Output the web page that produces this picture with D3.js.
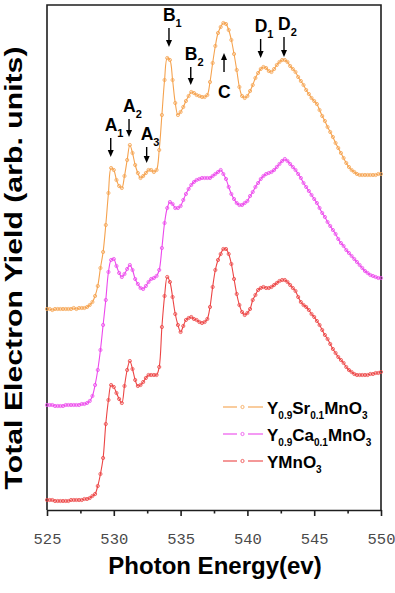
<!DOCTYPE html>
<html><head><meta charset="utf-8">
<script src="https://cdn.jsdelivr.net/npm/d3@7"></script>
<style>body{margin:0;background:#fff}svg{display:block}</style>
</head><body><svg id="c" width="395" height="593"></svg>
<script>
// Photon energy grid (eV)
const energies = [
525.0,525.2,525.4,525.6,525.8,526.0,526.2,526.4,526.6,526.8,
527.0,527.2,527.4,527.6,527.8,528.0,528.2,528.4,528.6,528.8,
529.0,529.2,529.4,529.6,529.8,530.0,530.2,530.4,530.6,530.8,
531.0,531.2,531.4,531.6,531.8,532.0,532.2,532.4,532.6,532.8,
533.0,533.2,533.4,533.6,533.8,534.0,534.2,534.4,534.6,534.8,
535.0,535.2,535.4,535.6,535.8,536.0,536.2,536.4,536.6,536.8,
537.0,537.2,537.4,537.6,537.8,538.0,538.2,538.4,538.6,538.8,
539.0,539.2,539.4,539.6,539.8,540.0,540.2,540.4,540.6,540.8,
541.0,541.2,541.4,541.6,541.8,542.0,542.2,542.4,542.6,542.8,
543.0,543.2,543.4,543.6,543.8,544.0,544.2,544.4,544.6,544.8,
545.0,545.2,545.4,545.6,545.8,546.0,546.2,546.4,546.6,546.8,
547.0,547.2,547.4,547.6,547.8,548.0,548.2,548.4,548.6,548.8,
549.0,549.2,549.4,549.6,549.8,550.0];

// Total electron yield (arb. units, offset curves)
const ySr = [
201,201,200,201,201,201,201,201,201,201,
202,201,202,202,202,203,205,208,214,224,
242,258,285,317,342,340,330,324,322,334,
350,365,357,345,337,332,334,337,340,340,
338,340,360,395,430,452,450,430,407,395,
398,403,409,414,418,417,415,414,413,413,
415,428,447,464,477,483,487,486,480,470,
456,440,423,414,412,414,419,425,432,437,
441,443,442,439,438,441,445,448,450,450,
448,444,441,438,433,429,425,420,416,412,
409,406,400,394,389,383,378,373,367,362,
357,352,347,343,340,338,336,335,335,335,
335,335,335,335,336,336];

const yCa = [
105,105,105,104,104,104,104,105,105,105,
105,105,105,106,106,107,109,114,125,140,
160,185,210,238,250,251,244,237,233,236,
241,245,240,231,226,222,221,224,228,231,
232,234,240,262,287,302,308,306,302,302,
304,310,316,321,325,328,330,331,332,332,
332,332,334,336,338,340,336,331,323,316,
311,307,305,305,307,309,314,318,323,327,
331,334,336,337,338,340,343,346,349,351,
349,346,343,340,336,332,327,323,319,315,
311,307,302,297,293,288,284,280,276,271,
267,264,260,257,254,251,248,245,242,239,
237,235,234,233,232,232];

const yY = [
10,10,10,9,9,9,9,9,9,10,
10,10,10,10,11,11,12,14,16,24,
36,52,86,110,125,123,117,111,107,124,
140,149,141,130,124,125,128,132,135,135,
135,135,143,183,214,233,228,213,196,185,
178,184,190,192,193,191,190,188,187,188,
191,203,223,240,250,256,261,261,256,246,
231,216,205,198,195,197,201,210,215,220,
222,223,222,222,223,225,227,229,230,230,
228,225,222,219,213,208,205,203,200,196,
193,189,185,180,175,171,166,161,157,153,
150,147,143,140,138,136,135,135,135,135,
135,136,136,137,137,138];

const xTicks = [525, 530, 535, 540, 545, 550];
const xMinorTicks = [527.5, 532.5, 537.5, 542.5, 547.5];

const seriesColors = ["#F5A24E", "#EC48EC", "#EC4444"];
// legend labels: [main, sub, main, sub, ...]
const legendParts = [
  ["Y","0.9","Sr","0.1","MnO","3"],
  ["Y","0.9","Ca","0.1","MnO","3"],
  ["YMnO","3"]
];

// peak annotations
const peakLetters = ["A","A","A","B","B","C","D","D"];
const peakSubs = ["1","2","3","1","2","","1","2"];
const peakEnergies = [529.77, 531.14, 532.46, 534.13, 535.76, 538.25, 540.99, 542.74];
const arrowTips = [353, 373, 347, 463, 425, 457, 452, 453];
const arrowTails = [372, 391, 363, 482, 443, 438, 471, 473];

const svg = d3.select("#c");
const x = d3.scaleLinear().domain([525, 550]).range([47, 381]);
const y = d3.scaleLinear().domain([0, 505]).range([510, 5]);

// frame (left, top, right)
svg.append("path")
  .attr("d", `M${x(525)},${y(0)}V${y(505)}H${x(550)}V${y(0)}`)
  .attr("fill", "none").attr("stroke", "#1e1e1e").attr("stroke-width", 1.6);

// bottom axis
const gx = svg.append("g").attr("transform", `translate(0,${y(0)})`)
  .call(d3.axisBottom(x).tickValues(xTicks).tickSize(6).tickPadding(17).tickSizeOuter(0));
gx.select(".domain").attr("stroke", "#1e1e1e").attr("stroke-width", 1.6);
gx.selectAll(".tick line").attr("stroke", "#1e1e1e").attr("stroke-width", 1.6);
gx.selectAll(".tick text").attr("font-family", "Liberation Mono, DejaVu Sans Mono, monospace")
  .attr("font-size", 15.5).attr("fill", "#4a4a4a");
const gm = svg.append("g").attr("transform", `translate(0,${y(0)})`)
  .call(d3.axisBottom(x).tickValues(xMinorTicks).tickSize(3.5).tickFormat("").tickSizeOuter(0));
gm.select(".domain").remove();
gm.selectAll(".tick line").attr("stroke", "#1e1e1e").attr("stroke-width", 1.6);

// axis titles
svg.append("text").attr("x", 215).attr("y", 574).attr("text-anchor", "middle")
  .attr("font-family", "Liberation Sans, Arial, sans-serif").attr("font-weight", "bold")
  .attr("font-size", 24).attr("fill", "#000").text("Photon Energy(ev)");
svg.append("text").attr("transform", "translate(22,268) rotate(-90)").attr("text-anchor", "middle")
  .attr("font-family", "Liberation Sans, Arial, sans-serif").attr("font-weight", "bold")
  .attr("font-size", 24).attr("fill", "#000")
  .attr("textLength", 443).attr("lengthAdjust", "spacingAndGlyphs")
  .text("Total Electron Yield (arb. units)");

// curves
const series = [ySr, yCa, yY];
const line = d3.line().x((d, i) => x(energies[i])).y(d => y(d)).curve(d3.curveCatmullRom.alpha(0.5));
series.forEach((vals, k) => {
  const g = svg.append("g");
  g.append("path").datum(vals).attr("d", line).attr("fill", "none")
    .attr("stroke", seriesColors[k]).attr("stroke-width", 1.1);
  g.selectAll("circle").data(vals).join("circle")
    .attr("cx", (d, i) => x(energies[i])).attr("cy", d => y(d)).attr("r", 1.6)
    .attr("fill", "none").attr("stroke", seriesColors[k]).attr("stroke-width", 0.8);
});

// annotations
const fontF = "Liberation Sans, Arial, sans-serif";
peakLetters.forEach((L, i) => {
  const ax = x(peakEnergies[i]);
  const tip = y(arrowTips[i]), tail = y(arrowTails[i]);
  const dir = tip > tail ? 1 : -1;
  const headLen = 7, headW = 3;
  svg.append("line").attr("x1", ax).attr("x2", ax).attr("y1", tail).attr("y2", tip - dir * headLen)
    .attr("stroke", "#000").attr("stroke-width", 1.4);
  svg.append("path")
    .attr("d", `M${ax},${tip}L${ax - headW},${tip - dir * headLen}L${ax + headW},${tip - dir * headLen}Z`)
    .attr("fill", "#000");
  const t = svg.append("text").attr("font-family", fontF).attr("font-weight", "bold").attr("fill", "#000");
  if (dir === 1) {
    t.attr("x", ax - 6).attr("y", tail - 7);
  } else {
    t.attr("x", ax - 6).attr("y", tail + 26);
  }
  t.append("tspan").attr("font-size", 17.5).text(L);
  if (peakSubs[i]) t.append("tspan").attr("font-size", 11).attr("dy", 6).text(peakSubs[i]);
});

// legend
const legendRowsY = [407, 434, 461];
legendParts.forEach((parts, k) => {
  const ly = legendRowsY[k];
  const g = svg.append("g");
  g.append("line").attr("x1", 223).attr("x2", 237).attr("y1", ly).attr("y2", ly)
    .attr("stroke", seriesColors[k]).attr("stroke-width", 1.1);
  g.append("line").attr("x1", 248).attr("x2", 263).attr("y1", ly).attr("y2", ly)
    .attr("stroke", seriesColors[k]).attr("stroke-width", 1.1);
  g.append("circle").attr("cx", 242.5).attr("cy", ly).attr("r", 1.6)
    .attr("fill", "none").attr("stroke", seriesColors[k]).attr("stroke-width", 0.8);
  const t = g.append("text").attr("x", 267).attr("y", ly + 7)
    .attr("font-family", fontF).attr("font-weight", "bold").attr("fill", "#000");
  parts.forEach((p, j) => {
    const sp = t.append("tspan").text(p);
    if (j % 2 === 1) sp.attr("font-size", 10).attr("dy", 5);
    else sp.attr("font-size", 17).attr("dy", j === 0 ? 0 : -5);
  });
});
</script></body></html>
